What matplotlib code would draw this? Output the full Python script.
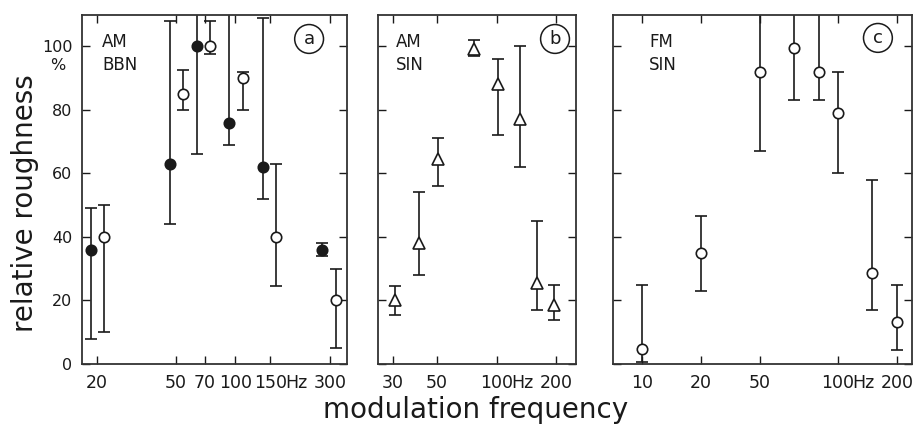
import matplotlib.pyplot as plt
import numpy as np
from matplotlib.ticker import NullLocator

# (a) AM broadband noise: two runs, filled and open circles
a_fill_freq = [18.6, 46.8, 64.2, 93, 138, 275]
a_fill_rough = [36, 63, 100, 76, 62, 36]
a_fill_lo = [8, 44, 66, 69, 52, 34]
a_fill_hi = [49, 108, 115, 115, 109, 38]

a_open_freq = [21.8, 54.6, 74.5, 109, 160, 322]
a_open_rough = [40, 85, 100, 90, 40, 20]
a_open_lo = [10, 80, 97.5, 80, 24.5, 5]
a_open_hi = [50, 92.5, 108, 92, 63, 30]

# (b) AM sine tone
b_freq = [30.6, 40.5, 50.7, 77, 102, 131, 161, 194]
b_rough = [20, 38, 64.5, 99, 88, 77, 25.5, 18.5]
b_lo = [15.4, 28, 56, 97, 72, 62, 17, 14]
b_hi = [24.5, 54, 71, 102, 96, 100, 45, 25]

# (c) FM sine tone
c_freq = [10, 20, 40, 60, 80, 100, 150, 200]
c_rough = [4.6, 35, 92, 99.5, 92, 79, 28.7, 13.3]
c_lo = [0.5, 23, 67, 83, 83, 60, 17, 4.5]
c_hi = [25, 46.5, 115, 115, 115, 92, 58, 25]

a_ticks = [20, 50, 70, 100, 150, 300]
a_labels = ['20', '50', '70', '100', '150', '300']
b_ticks = [30, 50, 100, 200]
b_labels = ['30', '50', '100', '200']
c_ticks = [10, 20, 40, 100, 200]
c_labels = ['10', '20', '50', '100', '200']
y_ticks = [0, 20, 40, 60, 80, 100]

INK = '#1a1a1a'
TICK_FS = 12.5
TICK_PAD = 7

fig = plt.figure(figsize=(9.17, 4.25), dpi=100)

def bars(ax, f, r, lo, hi, marker, face, ms):
    r = np.asarray(r, float)
    yerr = [r - np.asarray(lo, float), np.asarray(hi, float) - r]
    ax.errorbar(f, r, yerr=yerr, fmt=marker, ms=ms, mfc=face, mec=INK, mew=1.2,
                ecolor=INK, elinewidth=1.2, capsize=4.5, capthick=1.2)

def setup(ax, xlim, ticks, labels, hz_at, tag, kind, ylabels=False):
    ax.set_xscale('log')
    ax.set_xlim(*xlim)
    ax.set_ylim(0, 110)
    ax.set_xticks(ticks, labels)
    ax.xaxis.set_minor_locator(NullLocator())
    ax.set_yticks(y_ticks)
    ax.tick_params(direction='in', top=True, right=True, length=6, width=1,
                   colors=INK, pad=TICK_PAD, labelleft=ylabels)
    ax.tick_params(axis='x', labelsize=TICK_FS)
    ax.tick_params(axis='y', labelsize=11.5)
    for s in ax.spines.values():
        s.set_linewidth(1.3)
        s.set_color('#333333')
    # unit tacked on after one tick label
    half = len(labels[ticks.index(hz_at)]) * 0.636 * TICK_FS / 2 - 1.5
    ax.annotate('Hz', xy=(hz_at, 0), xycoords=('data', 'axes fraction'),
                xytext=(half, -TICK_PAD), textcoords='offset points',
                ha='left', va='top', fontsize=TICK_FS, color=INK)
    ax.text(tag[0], tag[1], tag[2], transform=ax.transAxes, fontsize=13,
            ha='center', va='center', color=INK,
            bbox=dict(boxstyle='circle,pad=0.3', fc='white', ec=INK, lw=1.1))
    ax.text(kind[0], 0.947, kind[1], transform=ax.transAxes, fontsize=12,
            ha='left', va='top', linespacing=1.35, color=INK)

h = 349.5 / 425
y0 = 61 / 425
ax_a = fig.add_axes([82 / 917, y0, 265 / 917, h])
ax_b = fig.add_axes([378 / 917, y0, 198 / 917, h])
ax_c = fig.add_axes([613 / 917, y0, 299 / 917, h])

bars(ax_a, a_fill_freq, a_fill_rough, a_fill_lo, a_fill_hi, 'o', INK, 7.5)
bars(ax_a, a_open_freq, a_open_rough, a_open_lo, a_open_hi, 'o', 'white', 7.5)
bars(ax_b, b_freq, b_rough, b_lo, b_hi, '^', 'white', 8)
bars(ax_c, c_freq, c_rough, c_lo, c_hi, 'o', 'white', 7.5)

setup(ax_a, (16.8, 366), a_ticks, a_labels, 150, (0.857, 0.93, 'a'), (0.075, 'AM\nBBN'), True)
setup(ax_b, (25.2, 252), b_ticks, b_labels, 100, (0.894, 0.93, 'b'), (0.089, 'AM\nSIN'))
setup(ax_c, (7.1, 239), c_ticks, c_labels, 100, (0.886, 0.933, 'c'), (0.12, 'FM\nSIN'))

fig.text(58 / 917, 1 - 66 / 425, '%', fontsize=11.5, ha='center', va='center', color=INK)
fig.text(25 / 917, 1 - 203 / 425, 'relative roughness', rotation=90, fontsize=20,
         ha='center', va='center', color=INK)
fig.text(476 / 917, 1 - 410 / 425, 'modulation frequency', fontsize=20,
         ha='center', va='center', color=INK)

fig.savefig('out.png', dpi=100)
